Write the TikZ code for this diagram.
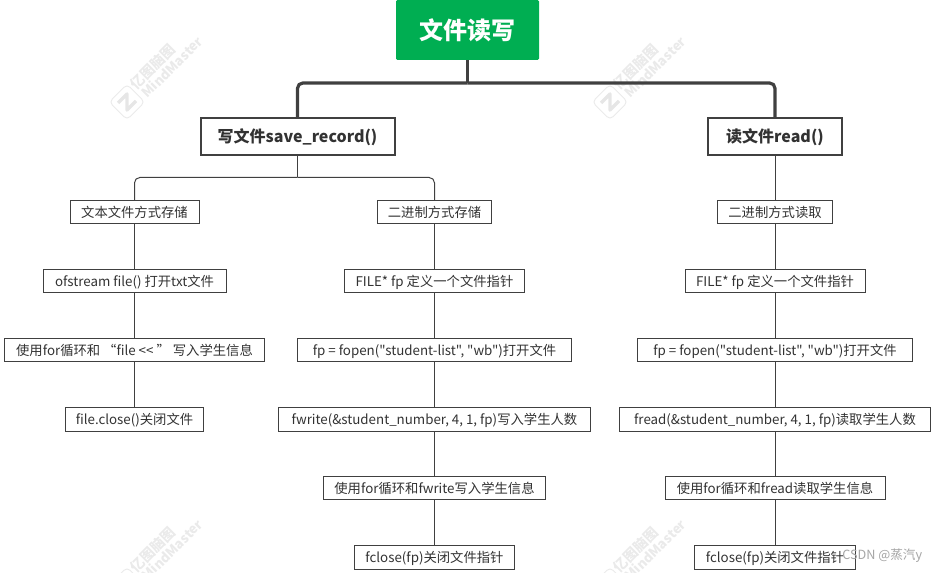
\documentclass[tikz,border=0pt]{standalone}
\usepackage{fontspec}
\newfontfamily\cjk{Noto Sans CJK SC}
\definecolor{mmgreen}{RGB}{0,174,82}
\definecolor{mmline}{RGB}{64,64,64}
\definecolor{mmtext}{RGB}{50,50,50}
\definecolor{mmmark}{RGB}{234,234,234}
\definecolor{mmicon}{RGB}{230,230,230}
\definecolor{mmcsdn}{RGB}{165,165,165}
\usetikzlibrary{calc}
\tikzset{
  rootbox/.style={fill=mmgreen, rounded corners=1pt, minimum width=107.25pt, minimum height=45pt, inner sep=0pt, text=white, font=\cjk\fontsize{18}{20}\selectfont\bfseries},
  branchbox/.style={draw=mmline, line width=1.5pt, minimum height=27.75pt, inner sep=0pt, text=mmtext, font=\cjk\fontsize{12}{14}\selectfont\bfseries},
  leafbox/.style={draw=mmline, line width=0.75pt, minimum height=17.6pt, inner sep=0pt, text height=9.6pt, text depth=2pt, text=mmtext, font=\cjk\fontsize{10}{12}\selectfont},
  trunk/.style={draw=mmline, line width=2.4pt, rounded corners=4pt},
  twig/.style={draw=mmline, line width=0.75pt, rounded corners=4pt},
  mindmark/.pic={
    \draw[mmmark, line width=0.7pt, rounded corners=3pt, rotate=45] (-12.5,-12.5) rectangle (12.5,12.5);
    \draw[mmicon, line width=2.6pt, line join=round] (-9,1) -- (0,-8) -- (0,8) -- (9,-1);
    \node[rotate=45, text=mmmark, font=\cjk\fontsize{10.5}{12}\selectfont\bfseries] (-cn) at (26,-35) {亿图脑图};
    \node[rotate=45, text=mmmark, font=\cjk\fontsize{10}{12}\selectfont\bfseries] (-en) at (45,-35) {MindMaster};
  }
}
\begin{document}
\begin{tikzpicture}[x=0.75pt,y=-0.75pt]
  \clip (0,0) rectangle (936,573);
  \useasboundingbox (0,0) rectangle (936,573);
  % Watermarks
  \pic (wa) at (127,102) {mindmark};
  \pic (wb) at (610,102) {mindmark};
  \pic (wc) at (127,585) {mindmark};
  \pic (wd) at (610,585) {mindmark};
  % Top levels
  \node[rootbox] (root) at (467.5,30) {文件读写};
  \node[branchbox, minimum width=145.5pt] (save) at (297.5,137) {写文件save\_record()};
  \node[branchbox, minimum width=101pt] (read) at (775,137) {读文件read()};
  % Text file column
  \node[leafbox, minimum width=96.75pt] (ta) at (134.5,212) {文本文件方式存储};
  \node[leafbox, minimum width=137.25pt] (tb) at (134.5,281) {ofstream file() 打开txt文件};
  \node[leafbox, minimum width=195pt] (tc) at (134.5,350) {使用for循环和 “file << ” 写入学生信息};
  \node[leafbox, minimum width=103.5pt] (td) at (134.5,419.5) {file.close()关闭文件};
  % Binary write column
  \node[leafbox, minimum width=85.9pt] (ba) at (434.5,212) {二进制方式存储};
  \node[leafbox, minimum width=135.4pt] (bb) at (434.5,281) {FILE* fp 定义一个文件指针};
  \node[leafbox, minimum width=205.5pt] (bc) at (434.5,350) {fp = fopen("student-list", "wb")打开文件};
  \node[leafbox, minimum width=234pt] (bd) at (434.5,419.5) {fwrite(\&student\_number, 4, 1, fp)写入学生人数};
  \node[leafbox, minimum width=166.9pt] (be) at (434.5,488) {使用for循环和fwrite写入学生信息};
  \node[leafbox, minimum width=120.4pt] (bf) at (434.5,557.5) {fclose(fp)关闭文件指针};
  % Binary read column
  \node[leafbox, minimum width=85.9pt] (ra) at (775,212) {二进制方式读取};
  \node[leafbox, minimum width=135pt] (rb) at (775,281) {FILE* fp 定义一个文件指针};
  \node[leafbox, minimum width=205.9pt] (rc) at (775,350) {fp = fopen("student-list", "wb")打开文件};
  \node[leafbox, minimum width=232.9pt] (rd) at (775,419.5) {fread(\&student\_number, 4, 1, fp)读取学生人数};
  \node[leafbox, minimum width=165pt] (re) at (775,488) {使用for循环和fread读取学生信息};
  \node[leafbox, minimum width=120.4pt] (rf) at (775,557.5) {fclose(fp)关闭文件指针};
  % Connectors
  \coordinate (rootbus) at (467.5,83);
  \coordinate (savebus) at (297.5,177.5);
  \draw[trunk] (root.south) -- (rootbus);
  \draw[trunk] (rootbus) -| (save.north);
  \draw[trunk] (rootbus) -| (read.north);
  \draw[twig] (save.south) -- (savebus);
  \draw[twig] (savebus) -| (ta.north);
  \draw[twig] (savebus) -| (ba.north);
  \draw[twig] (read.south) -- (ra.north);
  \draw[twig] (ta) -- (tb);
  \draw[twig] (tb) -- (tc);
  \draw[twig] (tc) -- (td);
  \draw[twig] (ba) -- (bb);
  \draw[twig] (bb) -- (bc);
  \draw[twig] (bc) -- (bd);
  \draw[twig] (bd) -- (be);
  \draw[twig] (be) -- (bf);
  \draw[twig] (ra) -- (rb);
  \draw[twig] (rb) -- (rc);
  \draw[twig] (rc) -- (rd);
  \draw[twig] (rd) -- (re);
  \draw[twig] (re) -- (rf);
  % Site mark
  \node[anchor=west, inner sep=0pt, text=mmcsdn, font=\cjk\fontsize{9.5}{12}\selectfont] (csdn) at (842,556) {CSDN @蒸汽y};
\end{tikzpicture}
\end{document}
